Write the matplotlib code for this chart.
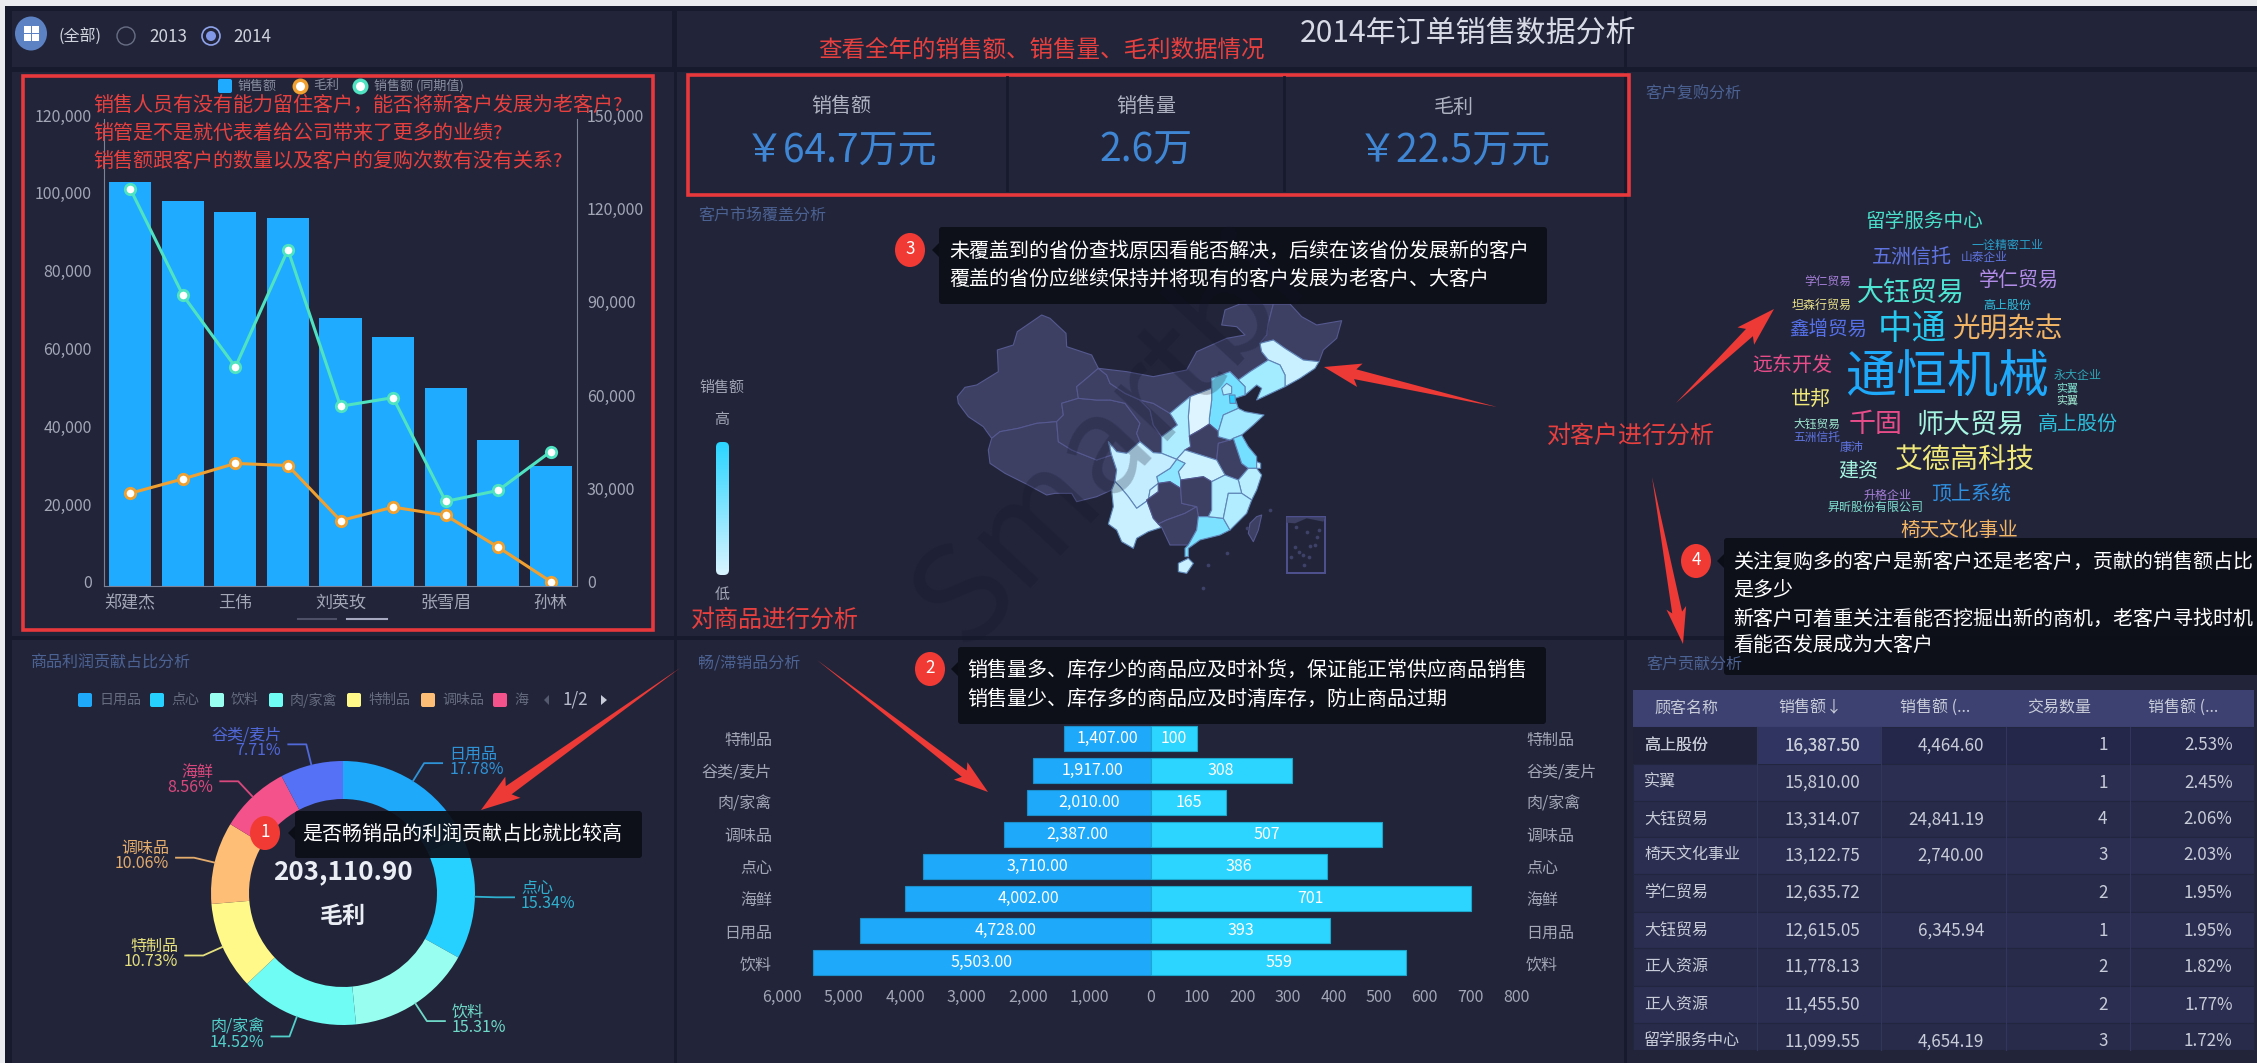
import matplotlib
matplotlib.use("Agg")
import matplotlib.pyplot as plt
import numpy as np
from matplotlib.patches import Circle, Ellipse, FancyBboxPatch, Polygon, Rectangle
from matplotlib.transforms import ScaledTranslation

plt.rcParams['font.family'] = ['Noto Sans CJK SC', 'DejaVu Sans']

W, H = 2257, 1063

# sales by salesperson
sales_names = ["郑建杰", "", "王伟", "", "刘英玫", "", "张雪眉", "", "孙林"]
sales_amount = [103900, 98900, 96060, 94600, 68980, 63900, 50900, 37600, 30760]
sales_last_year = [127560, 93440, 70340, 108000, 57740, 60500, 27170, 30700, 43180]
sales_profit = [29790, 34380, 39370, 38700, 21000, 25330, 22700, 12470, 1440]
left_ticks = [0, 20000, 40000, 60000, 80000, 100000, 120000]
right_ticks = [0, 30000, 60000, 90000, 120000, 150000]

# kpi row
kpi_names = ["销售额", "销售量", "毛利"]
kpi_values = ["￥64.7万元", "2.6万", "￥22.5万元"]

# profit share donut
share_names = ["日用品", "点心", "饮料", "肉/家禽", "特制品", "调味品", "海鲜", "谷类/麦片"]
share_values = [17.78, 15.34, 15.31, 14.52, 10.73, 10.06, 8.56, 7.71]
share_colors = ["#1ea9fb", "#26d0ff", "#98fff0", "#6ffcf5", "#fff98a", "#ffbe75", "#f4528a", "#5571f5"]
share_text_colors = ["#2f93d8", "#2fb0cf", "#6fd9c8", "#52cfc9", "#e5e07c", "#e3ab6c", "#d9487c", "#5068d8"]

# pyramid
pyr_names = ["特制品", "谷类/麦片", "肉/家禽", "调味品", "点心", "海鲜", "日用品", "饮料"]
pyr_sold = [1407, 1917, 2010, 2387, 3710, 4002, 4728, 5503]
pyr_stock = [100, 308, 165, 507, 386, 701, 393, 559]
pyr_left_ticks = [6000, 5000, 4000, 3000, 2000, 1000]
pyr_right_ticks = [0, 100, 200, 300, 400, 500, 600, 700, 800]

# customer table
table_head = ["顾客名称", "销售额↓", "销售额 (...", "交易数量", "销售额 (..."]
table_names = ["高上股份", "实翼", "大钰贸易", "椅天文化事业", "学仁贸易", "大钰贸易", "正人资源", "正人资源", "留学服务中心"]
table_sales = ["16,387.50", "15,810.00", "13,314.07", "13,122.75", "12,635.72", "12,615.05", "11,778.13", "11,455.50", "11,099.55"]
table_last = ["4,464.60", "", "24,841.19", "2,740.00", "", "6,345.94", "", "", "4,654.19"]
table_count = ["1", "1", "4", "3", "2", "1", "2", "2", "3"]
table_pct = ["2.53%", "2.45%", "2.06%", "2.03%", "1.95%", "1.95%", "1.82%", "1.77%", "1.72%"]

# word cloud: word, x, y, size, colour
cloud = [
    ("留学服务中心", 1924, 221, 19.6, "#49dfc9"), ("一诠精密工业", 2007, 245, 12, "#2a9fc9"),
    ("五洲信托", 1912, 257, 20, "#5f74e0"), ("山泰企业", 1984, 257, 11.7, "#5f74e0"),
    ("学仁贸易", 2019, 281, 20, "#b38be8"), ("学仁贸易", 1828, 281, 11.7, "#a77fd9"),
    ("大钰贸易", 1911, 293, 27, "#4fe5d3"), ("坦森行贸易", 1822, 305, 12, "#e8e088"),
    ("高上股份", 2007, 305, 12, "#2fc0e0"), ("鑫增贸易", 1828, 329, 19.5, "#5570e8"),
    ("中通", 1912, 329, 34.5, "#27c8f0"), ("光明杂志", 2007, 329, 27.6, "#f2b566"),
    ("远东开发", 1792, 365, 20, "#e84d8a"), ("通恒机械", 1947, 377, 51, "#1fa9fb"),
    ("永大企业", 2078, 376, 12, "#2fa5b5"), ("实翼", 2067, 388, 11, "#7fe0d0"),
    ("实翼", 2067, 400, 11, "#a0e8d0"), ("世邦", 1811, 400, 20, "#f0e878"),
    ("千固", 1876, 425, 27, "#e84d8a"), ("师大贸易", 1970, 425, 27, "#a6f5e0"),
    ("高上股份", 2078, 424, 20, "#2cc0dc"), ("大钰贸易", 1817, 424, 11.7, "#9ee8d0"),
    ("五洲信托", 1817, 437, 11.7, "#5f74e0"), ("康沛", 1852, 448, 12, "#5f74e0"),
    ("艾德高科技", 1965, 460, 28, "#f0e878"), ("建资", 1858, 472, 20, "#a6f5e0"),
    ("升格企业", 1888, 495, 12, "#a77fd9"), ("顶上系统", 1971, 495, 20, "#2f8fe0"),
    ("昇昕股份有限公司", 1876, 507, 12, "#7fe0d0"), ("椅天文化事业", 1959, 531, 19.6, "#f2b566"),
]

# rough province outlines, traced in map units (3 units = 1 px on the figure)
DARK = "#3d3f63"
provinces = [
    ("新疆", DARK, [(52,290),(75,262),(110,255),(175,215),(172,150),(220,135),(232,95),(305,45),(330,55),(378,100),(380,140),(455,165),(475,205),(440,235),(410,260),(415,295),(365,310),(370,345),(350,365),(290,370),(235,385),(180,395),(155,415),(130,380),(85,350),(55,310)]),
    ("西藏", DARK, [(155,415),(180,395),(235,385),(290,370),(350,365),(355,425),(395,450),(470,480),(515,465),(530,510),(525,545),(515,570),(470,590),(410,605),(395,580),(345,580),(320,585),(255,550),(195,520),(150,490),(145,450)]),
    ("青海", DARK, [(365,310),(415,295),(470,300),(510,300),(555,310),(600,370),(590,400),(600,425),(560,460),(530,455),(505,425),(515,465),(470,480),(395,450),(355,425),(350,365),(370,345)]),
    ("甘肃", DARK, [(410,260),(440,235),(475,205),(500,225),(510,250),(555,280),(600,300),(630,330),(640,375),(665,410),(665,460),(640,458),(600,425),(590,400),(600,370),(555,310),(510,300),(470,300),(415,295)]),
    ("宁夏", DARK, [(600,300),(640,310),(690,340),(700,355),(712,375),(665,410),(640,375),(630,330)]),
    ("内蒙古", DARK, [(475,205),(560,215),(640,230),(740,210),(770,155),(860,115),(915,105),(890,80),(845,75),(855,30),(900,12),(1000,12),(985,70),(980,105),(960,130),(965,155),(985,180),(930,215),(895,240),(870,215),(815,235),(815,265),(750,290),(690,340),(640,310),(600,300),(555,280),(510,250),(500,225)]),
    ("黑龙江", DARK, [(1000,12),(1050,12),(1085,50),(1130,75),(1205,62),(1190,115),(1150,150),(1137,185),(1090,180),(1035,145),(1000,120),(960,130),(980,105),(985,70)]),
    ("吉林", "#c8f0ff", [(960,130),(1000,120),(1035,145),(1090,180),(1137,185),(1125,205),(1080,235),(1035,260),(1035,225),(1020,195),(985,180),(965,155)]),
    ("辽宁", "#a3ebff", [(895,240),(930,215),(985,180),(1020,195),(1035,225),(1035,260),(950,300),(965,265),(950,255),(915,285),(915,260)]),
    ("河北", "#75e0ff", [(815,235),(870,215),(895,240),(915,260),(915,285),(885,295),(895,325),(850,345),(835,395),(808,372),(808,355),(815,300),(815,265)]),
    ("北京", "#b5eeff", [(845,265),(860,250),(875,260),(875,280),(850,285)]),
    ("天津", "#2bd0ff", [(868,285),(885,285),(887,310),(870,310)]),
    ("山西", "#def5ff", [(750,290),(815,265),(815,300),(808,355),(808,372),(780,390),(748,408),(745,350)]),
    ("陕西", "#aeecff", [(690,340),(750,290),(745,350),(748,408),(752,440),(735,450),(710,478),(665,460),(665,410),(712,375),(700,355)]),
    ("河南", DARK, [(748,408),(780,390),(808,372),(835,395),(835,410),(870,420),(835,430),(830,480),(735,450),(752,440)]),
    ("安徽", DARK, [(835,430),(870,420),(880,415),(905,490),(925,505),(895,540),(855,525),(830,480)]),
    ("山东", "#a2e9ff", [(835,395),(850,345),(895,325),(915,335),(972,345),(940,375),(905,405),(880,415),(870,420),(835,410)]),
    ("江苏", "#74dfff", [(880,415),(905,405),(925,440),(950,470),(950,505),(925,505),(905,490)]),
    ("上海", "#c8f0ff", [(950,485),(962,490),(962,505),(950,505)]),
    ("浙江", "#b9eeff", [(895,540),(925,505),(950,505),(965,525),(950,570),(935,600),(905,580)]),
    ("湖北", "#ccf2ff", [(710,478),(735,450),(830,480),(855,525),(815,545),(790,530),(722,540),(715,515),(735,490)]),
    ("重庆", "#8ee5ff", [(710,478),(735,490),(715,515),(722,540),(722,565),(690,545),(655,550),(650,530),(690,505)]),
    ("四川", "#c4edff", [(505,425),(530,455),(560,460),(600,425),(640,458),(665,460),(710,478),(690,505),(650,530),(655,550),(630,570),(625,600),(590,625),(565,590),(540,560),(525,545),(530,510),(515,465)]),
    ("云南", "#c8f0ff", [(525,545),(540,560),(565,590),(590,625),(625,600),(630,570),(655,550),(655,575),(620,600),(640,655),(665,682),(625,695),(590,715),(580,745),(545,725),(530,690),(505,672),(520,620),(515,570)]),
    ("贵州", DARK, [(620,600),(655,575),(655,550),(690,545),(722,565),(725,610),(770,620),(735,640),(680,660),(655,672),(640,655)]),
    ("湖南", DARK, [(722,540),(790,530),(815,545),(815,630),(805,650),(775,650),(770,620),(725,610),(722,565)]),
    ("广西", DARK, [(655,672),(680,660),(735,640),(770,620),(775,650),(770,690),(745,735),(690,735),(665,682)]),
    ("广东", "#7be1ff", [(775,650),(805,650),(850,655),(870,690),(840,705),(780,720),(745,745),(745,770),(735,770),(735,745),(745,735),(770,690)]),
    ("江西", "#b2ecff", [(815,545),(855,525),(895,540),(905,580),(865,580),(850,655),(805,650),(815,630)]),
    ("福建", "#b2ecff", [(865,580),(905,580),(935,600),(920,640),(880,680),(870,690),(850,655)]),
    ("台湾", DARK, [(950,650),(965,645),(955,690),(940,725),(925,700),(930,670)]),
    ("海南", "#c8f0ff", [(715,790),(745,775),(760,790),(740,820),(715,815)]),
]
islet_x = [1068, 1100, 1132, 1065, 1110, 1125, 1052, 1088, 1108, 1078, 1136, 1092, 990, 920, 860, 790, 805]
islet_y = [680, 695, 710, 742, 738, 735, 770, 765, 770, 755, 690, 795, 630, 685, 760, 865, 795]


def px(n):
    return n * 0.72


def box(x0, y0, x1, y1, **kw):
    return fig.add_axes([x0 / W, 1 - y1 / H, (x1 - x0) / W, (y1 - y0) / H], **kw)


def nudge(labels, dy):
    # move tick labels up by dy pixels
    for lb in labels:
        lb.set_transform(lb.get_transform() + ScaledTranslation(0, dy / 100, fig.dpi_scale_trans))


def tip_box(x0, y0, x1, y1, cx, cy, num):
    ov.add_patch(FancyBboxPatch((x0 + 3, y0 + 3), x1 - x0 - 6, y1 - y0 - 6, boxstyle="round,pad=3",
                                fc="#0c0e17", ec="none", alpha=0.93))
    ov.add_patch(Polygon([(x0, cy - 7), (x0 - 7, cy), (x0, cy + 7)], fc="#0c0e17", ec="none"))
    ov.add_patch(Ellipse((cx, cy), 30, 34, fc="#f23a35", ec="none"))
    ov.text(cx, cy - 1, num, color="white", fontsize=px(17), ha="center", va="center")


def arrow(x0, y0, x1, y1, head=34, barb=13, neck=5):
    d = np.array([x1 - x0, y1 - y0], dtype=float)
    L = np.hypot(*d)
    d = d / L
    n = np.array([-d[1], d[0]])
    tip = np.array([x1, y1], dtype=float)
    tail = np.array([x0, y0], dtype=float)
    base = tip - d * head
    pts = [tail, base + n * neck, tip - d * head * 1.15 + n * barb, tip,
           tip - d * head * 1.15 - n * barb, base - n * neck]
    ov.add_patch(Polygon(pts, fc="#ee3a36", ec="none"))


fig = plt.figure(figsize=(W / 100, H / 100), dpi=100, facecolor="#171a2c")
TXT = "#a3a6b5"
RED = "#e8403f"
TITLE = "#4c6293"
PANEL = "#22253a"
NOTE = 20

# background panels
bg = box(0, 0, W, H, zorder=0)
bg.set_xlim(0, W)
bg.set_ylim(H, 0)
bg.axis("off")
bg.add_patch(Rectangle((0, 0), W, 6, fc="#e9ebef", ec="none"))
bg.add_patch(Rectangle((0, 0), 5, H, fc="#e9ebef", ec="none"))
for x0, y0, x1, y1 in [(12, 11, 672, 67), (12, 72, 674, 636), (12, 640, 674, H),
                       (677, 11, 1624, 67), (677, 72, 1624, 636), (677, 640, 1624, H),
                       (1627, 11, W, 67), (1627, 72, W, 636), (1627, 640, W, H)]:
    bg.add_patch(Rectangle((x0, y0), x1 - x0, y1 - y0, fc=PANEL, ec="none"))

# bar and line chart
ax = box(104, 119, 577, 586, zorder=1)
ax.patch.set_alpha(0)
xs = np.arange(len(sales_amount))
ax.bar(xs, sales_amount, width=0.8, color="#1fabff")
ax.set_xlim(-0.5, 8.5)
ax.set_ylim(0, 120000)
ax.set_yticks(left_ticks)
ax.set_yticklabels([f"{v:,}" for v in left_ticks])
ax.set_xticks(xs)
ax.set_xticklabels(sales_names)
ax.tick_params(length=0, colors=TXT, labelsize=px(16))
ax.tick_params(axis="y", pad=px(12))
ax.tick_params(axis="x", pad=px(8), labelsize=px(17))
ax.plot(xs, np.array(sales_profit) * 0.8, color="#f0a030", lw=2.2, marker="o", ms=7.5, mfc="white", mec="#f0a030", mew=2)
for s in ["top", "right"]:
    ax.spines[s].set_visible(False)
for s in ["left", "bottom"]:
    ax.spines[s].set_color("#7d8299")
nudge(ax.get_yticklabels(), 4)
ax2 = ax.twinx()
ax2.plot(xs, sales_last_year, color="#4fe3c1", lw=2.2, marker="o", ms=7.5, mfc="white", mec="#4fe3c1", mew=2)
ax2.set_ylim(0, 150000)
ax2.set_yticks(right_ticks)
ax2.set_yticklabels([f"{v:,}" for v in right_ticks])
ax2.tick_params(length=0, colors=TXT, labelsize=px(16), pad=px(10))
for s in ["top", "left", "bottom"]:
    ax2.spines[s].set_visible(False)
ax2.spines["right"].set_color("#7d8299")
nudge(ax2.get_yticklabels(), 4)

# donut
R = 132
cx_d, cy_d = 343, 893
lim = 1.6
pie = box(cx_d - R * lim, cy_d - R * lim, cx_d + R * lim, cy_d + R * lim, zorder=1)
pie.pie(share_values, colors=share_colors, startangle=90, counterclock=False, radius=1,
        wedgeprops=dict(width=1 - 94 / R, linewidth=0))
pie.set_xlim(-lim, lim)
pie.set_ylim(-lim, lim)
total = sum(share_values)
run = 0
for name, val, c in zip(share_names, share_values, share_text_colors):
    a = (run + val / 2) / total * 2 * np.pi
    run += val
    sx, cxx = np.sin(a), np.cos(a)
    side = 1 if sx > 0 else -1
    ex, ey = 1.16 * sx, 1.16 * cxx
    endx = ex + side * 18 / R
    pie.plot([sx, ex, endx], [cxx, ey, ey], color=c, lw=1.3, clip_on=False)
    ha = "left" if side > 0 else "right"
    tx = endx + side * 7 / R
    pie.text(tx, ey + 9 / R, name, color=c, fontsize=px(16), ha=ha, va="center")
    pie.text(tx, ey - 6 / R, f"{val:.2f}%", color=c, fontsize=px(16), ha=ha, va="center")

# pyramid
py = np.arange(len(pyr_names))
pl = box(782, 722, 1151, 979, zorder=1)
pr = box(1151, 722, 1516, 979, zorder=1)
pl.barh(py, pyr_sold, height=0.78, color="#1fa9fb", edgecolor="#1b8fc9", linewidth=0.8)
pr.barh(py, pyr_stock, height=0.78, color="#2bd5ff", edgecolor="#1ba8cc", linewidth=0.8)
pl.set_xlim(6000, 0)
pr.set_xlim(0, 800)
for a_ in (pl, pr):
    a_.set_ylim(len(pyr_names) - 0.5, -0.5)
    a_.patch.set_alpha(0)
    for s in a_.spines.values():
        s.set_visible(False)
    a_.set_yticks(py)
    a_.set_yticklabels(pyr_names)
    a_.tick_params(length=0, colors=TXT, labelsize=px(16), pad=px(10))
pl.set_xticks(pyr_left_ticks)
pl.set_xticklabels([f"{v:,}" for v in pyr_left_ticks])
pr.set_xticks(pyr_right_ticks)
pr.set_xticklabels(pyr_right_ticks)
pr.yaxis.tick_right()
for y, a_val, b_val in zip(py, pyr_sold, pyr_stock):
    pl.text(a_val / 2, y, f"{a_val:,.2f}", color="white", fontsize=px(16), ha="center", va="center")
    pr.text(b_val / 2, y, str(b_val), color="white", fontsize=px(16), ha="center", va="center")

# map
mp = box(940, 300, 1360, 590, zorder=1)
mp.set_xlim(0, 1260)
mp.set_ylim(870, 0)
mp.axis("off")
for name, col, pts in provinces:
    mp.add_patch(Polygon(pts, fc=col, ec="#55598f" if col == DARK else "#5f86b8", lw=0.8, joinstyle="round"))
mp.add_patch(Rectangle((1040, 652), 115, 168, fc="none", ec="#4f5290", lw=1.4))
mp.add_patch(Polygon([(1040, 652), (1155, 652), (1150, 665), (1100, 655), (1065, 670), (1040, 668)], fc=DARK, ec="none"))
mp.scatter(islet_x, islet_y, s=7, color="#3f4268", linewidths=0)

# foreground layer for notes
ov = box(0, 0, W, H, zorder=5)
ov.set_xlim(0, W)
ov.set_ylim(H, 0)
ov.axis("off")
ov.patch.set_alpha(0)

# header controls
ov.add_patch(Ellipse((31, 33.5), 32, 34, fc="#5c82c4", ec="none"))
for dx, dy in [(-7, -7), (1, -7), (-7, 1), (1, 1)]:
    ov.add_patch(Rectangle((31 + dx, 33 + dy), 6.5, 6.5, fc="white", ec="none"))
ov.text(59, 37, "(全部)", color="#d0d3dc", fontsize=px(16), ha="left", va="center")
ov.add_patch(Circle((126, 36), 9, fc="none", ec="#6a6e85", lw=1))
ov.text(149, 37, "2013", color="#d0d3dc", fontsize=px(17), ha="left", va="center")
ov.add_patch(Circle((211, 36), 9, fc="none", ec="#8fa3ea", lw=1.2))
ov.add_patch(Circle((211, 36), 5, fc="#8097e8", ec="none"))
ov.text(233, 37, "2014", color="#d0d3dc", fontsize=px(17), ha="left", va="center")

ov.text(1468, 33, "2014年订单销售数据分析", color="#d8dbe6", fontsize=px(30), ha="center", va="center")
ov.text(1041, 50, "查看全年的销售额、销售量、毛利数据情况", color=RED, fontsize=px(23.5), ha="center", va="center")

# bar chart legend and notes
ov.add_patch(FancyBboxPatch((220, 81), 10, 10, boxstyle="round,pad=2", fc="#1fabff", ec="none"))
ov.text(238, 86, "销售额", color="#8a8ea0", fontsize=px(13), va="center")
ov.plot([300], [86], marker="o", ms=9, mfc="white", mec="#f0a030", mew=2.5)
ov.text(313, 86, "毛利", color="#8a8ea0", fontsize=px(13), va="center")
ov.plot([360], [86], marker="o", ms=9, mfc="white", mec="#4fe3c1", mew=2.5)
ov.text(374, 86, "销售额 (同期值)", color="#8a8ea0", fontsize=px(13), va="center")
ov.plot([298, 336], [619, 619], color="#4d5066", lw=1.5)
ov.plot([347, 387], [619, 619], color="#a6a9c0", lw=1.5)
ov.add_patch(Rectangle((22.5, 75.5), 630, 554.5, fc="none", ec="#e8383c", lw=2.6))
ov.text(93, 105, "销售人员有没有能力留住客户，能否将新客户发展为老客户?", color=RED, fontsize=px(20), va="center")
ov.text(93, 133, "销管是不是就代表着给公司带来了更多的业绩?", color=RED, fontsize=px(20), va="center")
ov.text(93, 161, "销售额跟客户的数量以及客户的复购次数有没有关系?", color=RED, fontsize=px(20), va="center")

# kpi row
ov.plot([1007, 1007], [77, 190], color="#171a2c", lw=2)
ov.plot([1284, 1284], [77, 190], color="#171a2c", lw=2)
ov.add_patch(Rectangle((688, 75), 941, 120, fc="none", ec="#e8383c", lw=2.6))
for x, n, v in zip([841, 1146, 1454], kpi_names, kpi_values):
    ov.text(x, 107, n, color="#aeb1bf", fontsize=px(20), ha="center", va="center")
    ov.text(x, 151, v, color="#3f86d4", fontsize=px(39), ha="center", va="center")

# panel titles
ov.text(698, 215, "客户市场覆盖分析", color=TITLE, fontsize=px(16), va="center")
ov.text(1645, 94, "客户复购分析", color=TITLE, fontsize=px(16), va="center")
ov.text(30, 663, "商品利润贡献占比分析", color=TITLE, fontsize=px(16), va="center")
ov.text(698, 663, "畅/滞销品分析", color=TITLE, fontsize=px(16), va="center")
ov.text(1646, 664, "客户贡献分析", color=TITLE, fontsize=px(16), va="center")

# watermark
ov.text(1110, 440, "Smartbi", color="#14162a", alpha=0.25, fontsize=px(135), rotation=47, ha="center", va="center")

# map colour scale
grad = np.linspace(0, 1, 64).reshape(-1, 1)
cmap = matplotlib.colors.LinearSegmentedColormap.from_list("m", ["#2bd5ff", "#d8f4ff"])
im = ov.imshow(grad, extent=(716, 729, 575, 442), cmap=cmap, aspect="auto", zorder=2)
im.set_clip_path(FancyBboxPatch((716, 442), 13, 133, boxstyle="round,pad=0,rounding_size=5", transform=ov.transData))
ov.set_xlim(0, W)
ov.set_ylim(H, 0)
ov.text(722, 388, "销售额", color=TXT, fontsize=px(15), ha="center", va="center")
ov.text(722, 420, "高", color=TXT, fontsize=px(15), ha="center", va="center")
ov.text(722, 595, "低", color=TXT, fontsize=px(15), ha="center", va="center")
ov.text(691, 620, "对商品进行分析", color=RED, fontsize=px(24), va="center")
ov.text(1547, 437, "对客户进行分析", color=RED, fontsize=px(24), va="center")

# word cloud
for word, x, y, size, c in cloud:
    ov.text(x, y, word, color=c, fontsize=px(size), ha="center", va="center")

# donut legend and centre
leg_x = [85, 157, 217, 276, 354, 428, 500]
leg_names = ["日用品", "点心", "饮料", "肉/家禽", "特制品", "调味品", "海"]
for x, n, c in zip(leg_x, leg_names, share_colors):
    ov.add_patch(FancyBboxPatch((x - 5, 695), 10, 10, boxstyle="round,pad=2", fc=c, ec="none"))
    ov.text(x + 14, 700, n, color="#666b80", fontsize=px(14), va="center")
ov.add_patch(Polygon([(549, 695), (549, 705), (544, 700)], fc="#555a70", ec="none"))
ov.text(575, 699, "1/2", color="#b8bbca", fontsize=px(17), ha="center", va="center")
ov.add_patch(Polygon([(601, 695), (601, 705), (607, 700)], fc="#c8cbd8", ec="none"))
ov.text(343, 872, "203,110.90", color="#eceef5", fontsize=px(26), fontweight="bold", ha="center", va="center")
ov.text(343, 916, "毛利", color="#eceef5", fontsize=px(23), fontweight="bold", ha="center", va="center")

# table
col_x = [1633, 1757, 1881, 2006, 2130, 2254]
row_y = [727, 764, 801, 837, 874, 912, 948, 986, 1023, 1050]
ov.add_patch(Rectangle((1633, 690), 621, 37, fc="#3c4172", ec="none"))
head_x = [1686, 1778, 1900, 2059, 2148]
head_ha = ["center", "left", "left", "center", "left"]
for x, t, ha in zip(head_x, table_head, head_ha):
    ov.text(x, 708, t, color="#c8ccd8", fontsize=px(16), ha=ha, va="center")
for i, y0 in enumerate(row_y[:-1]):
    y1 = row_y[i + 1]
    fill = "#24274a" if i == 0 else ("#2b2e50" if i % 2 else "#282b4a")
    ov.add_patch(Rectangle((1633, y0), 621, y1 - y0, fc=fill, ec="#23263f", lw=0.8))
    for cx_ in col_x[1:-1]:
        ov.plot([cx_, cx_], [y0, y1], color="#32365a", lw=0.8)
    yc = (y0 + 18.5)
    ov.text(1644, yc, table_names[i], color="#c8ccd8", fontsize=px(16), va="center")
    ov.text(1860.5, yc, table_sales[i], color="#c8ccd8", fontsize=px(17), ha="right", va="center")
    ov.text(1984, yc, table_last[i], color="#c8ccd8", fontsize=px(17), ha="right", va="center")
    ov.text(2107.5, yc, table_count[i], color="#c8ccd8", fontsize=px(17), ha="right", va="center")
    ov.text(2232.5, yc, table_pct[i], color="#c8ccd8", fontsize=px(17), ha="right", va="center")
ov.add_patch(Rectangle((1633, 727), 124, 37, fc="#1f2238", ec="none"))
ov.text(1644, 745.5, table_names[0], color="#c8ccd8", fontsize=px(16), va="center")
ov.add_patch(Rectangle((1757, 727), 124, 37, fc="#2f3460", ec="none"))
ov.text(1860.5, 745.5, table_sales[0], color="#c8ccd8", fontsize=px(17), ha="right", va="center")
ov.add_patch(Rectangle((1633, 1050), 621, 13, fc=PANEL, ec="none"))

# red arrows
arrow(680, 668, 481, 810)
arrow(817, 660, 988, 792, head=30, barb=11, neck=4)
arrow(1497, 407, 1324, 367, head=32, barb=12, neck=5)
arrow(1676, 403, 1774, 309, head=34, barb=12, neck=5)
arrow(1652, 477, 1683, 644, head=32, barb=10, neck=5)

# tooltips
tip_box(295, 811, 642, 858, 265, 833, "1")
ov.text(302, 834, "是否畅销品的利润贡献占比就比较高", color="white", fontsize=px(NOTE), va="center")
tip_box(958, 647, 1546, 724, 930, 669, "2")
ov.text(967, 670, "销售量多、库存少的商品应及时补货，保证能正常供应商品销售", color="white", fontsize=px(NOTE), va="center")
ov.text(967, 699, "销售量少、库存多的商品应及时清库存，防止商品过期", color="white", fontsize=px(NOTE), va="center")
tip_box(939, 227, 1547, 304, 910, 250, "3")
ov.text(949, 251, "未覆盖到的省份查找原因看能否解决，后续在该省份发展新的客户", color="white", fontsize=px(NOTE), va="center")
ov.text(949, 279, "覆盖的省份应继续保持并将现有的客户发展为老客户、大客户", color="white", fontsize=px(NOTE), va="center")
tip_box(1724, 538, 2262, 675, 1696, 561, "4")
note4 = ["关注复购多的客户是新客户还是老客户，贡献的销售额占比", "是多少", "新客户可着重关注看能否挖掘出新的商机，老客户寻找时机", "看能否发展成为大客户"]
for y, t in zip([562, 590, 619, 645], note4):
    ov.text(1733, y, t, color="white", fontsize=px(NOTE), va="center")

fig.savefig("out.png", dpi=100, facecolor=fig.get_facecolor())
